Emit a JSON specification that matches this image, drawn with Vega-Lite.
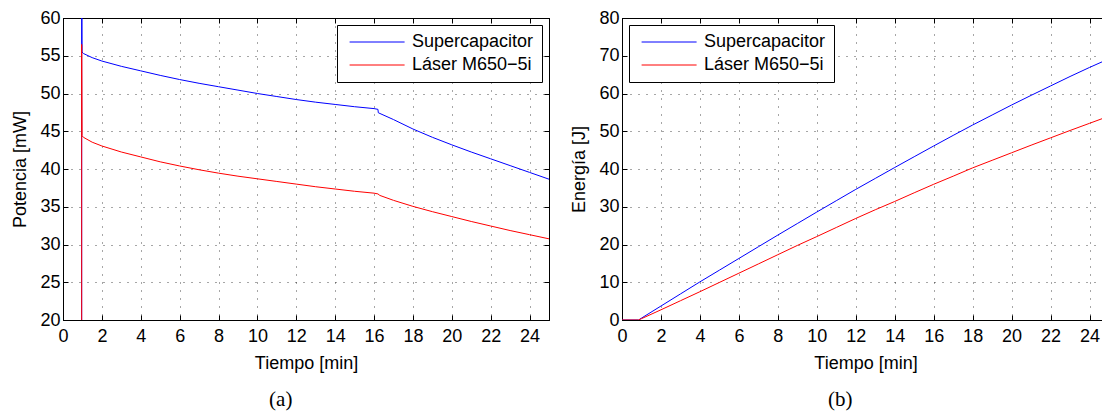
{
  "$schema": "https://vega.github.io/schema/vega-lite/v6.json",
  "padding": {"left": 11, "top": 8, "right": 0, "bottom": 0},
  "datasets": {
    "power": [
      {"t": 0, "v": 0, "s": "Supercapacitor"},
      {"t": 0.96, "v": 0, "s": "Supercapacitor"},
      {"t": 0.96, "v": 75, "s": "Supercapacitor"},
      {"t": 0.98, "v": 55.5, "s": "Supercapacitor"},
      {"t": 1.05, "v": 55.3, "s": "Supercapacitor"},
      {"t": 1.5, "v": 54.75, "s": "Supercapacitor"},
      {"t": 2, "v": 54.3, "s": "Supercapacitor"},
      {"t": 3, "v": 53.6, "s": "Supercapacitor"},
      {"t": 4, "v": 53.0, "s": "Supercapacitor"},
      {"t": 5, "v": 52.4, "s": "Supercapacitor"},
      {"t": 6, "v": 51.85, "s": "Supercapacitor"},
      {"t": 7, "v": 51.35, "s": "Supercapacitor"},
      {"t": 8, "v": 50.9, "s": "Supercapacitor"},
      {"t": 9, "v": 50.45, "s": "Supercapacitor"},
      {"t": 10, "v": 50.0, "s": "Supercapacitor"},
      {"t": 11, "v": 49.6, "s": "Supercapacitor"},
      {"t": 12, "v": 49.2, "s": "Supercapacitor"},
      {"t": 13, "v": 48.85, "s": "Supercapacitor"},
      {"t": 14, "v": 48.55, "s": "Supercapacitor"},
      {"t": 15, "v": 48.25, "s": "Supercapacitor"},
      {"t": 16, "v": 48.0, "s": "Supercapacitor"},
      {"t": 16.2, "v": 47.9, "s": "Supercapacitor"},
      {"t": 16.22, "v": 47.45, "s": "Supercapacitor"},
      {"t": 17, "v": 46.55, "s": "Supercapacitor"},
      {"t": 18, "v": 45.3, "s": "Supercapacitor"},
      {"t": 19, "v": 44.2, "s": "Supercapacitor"},
      {"t": 20, "v": 43.2, "s": "Supercapacitor"},
      {"t": 21, "v": 42.25, "s": "Supercapacitor"},
      {"t": 22, "v": 41.35, "s": "Supercapacitor"},
      {"t": 23, "v": 40.45, "s": "Supercapacitor"},
      {"t": 24, "v": 39.55, "s": "Supercapacitor"},
      {"t": 25, "v": 38.65, "s": "Supercapacitor"},
      {"t": 0, "v": 0, "s": "Láser M650−5i"},
      {"t": 0.96, "v": 0, "s": "Láser M650−5i"},
      {"t": 0.96, "v": 56.5, "s": "Láser M650−5i"},
      {"t": 0.98, "v": 44.4, "s": "Láser M650−5i"},
      {"t": 1.05, "v": 44.2, "s": "Láser M650−5i"},
      {"t": 1.5, "v": 43.55, "s": "Láser M650−5i"},
      {"t": 2, "v": 43.05, "s": "Láser M650−5i"},
      {"t": 3, "v": 42.25, "s": "Láser M650−5i"},
      {"t": 4, "v": 41.6, "s": "Láser M650−5i"},
      {"t": 5, "v": 40.95, "s": "Láser M650−5i"},
      {"t": 6, "v": 40.4, "s": "Láser M650−5i"},
      {"t": 7, "v": 39.9, "s": "Láser M650−5i"},
      {"t": 8, "v": 39.45, "s": "Láser M650−5i"},
      {"t": 9, "v": 39.05, "s": "Láser M650−5i"},
      {"t": 10, "v": 38.7, "s": "Láser M650−5i"},
      {"t": 11, "v": 38.35, "s": "Láser M650−5i"},
      {"t": 12, "v": 38.0, "s": "Láser M650−5i"},
      {"t": 13, "v": 37.65, "s": "Láser M650−5i"},
      {"t": 14, "v": 37.35, "s": "Láser M650−5i"},
      {"t": 15, "v": 37.05, "s": "Láser M650−5i"},
      {"t": 16, "v": 36.8, "s": "Láser M650−5i"},
      {"t": 16.2, "v": 36.7, "s": "Láser M650−5i"},
      {"t": 16.3, "v": 36.5, "s": "Láser M650−5i"},
      {"t": 17, "v": 35.85, "s": "Láser M650−5i"},
      {"t": 18, "v": 35.05, "s": "Láser M650−5i"},
      {"t": 19, "v": 34.35, "s": "Láser M650−5i"},
      {"t": 20, "v": 33.7, "s": "Láser M650−5i"},
      {"t": 21, "v": 33.05, "s": "Láser M650−5i"},
      {"t": 22, "v": 32.45, "s": "Láser M650−5i"},
      {"t": 23, "v": 31.85, "s": "Láser M650−5i"},
      {"t": 24, "v": 31.3, "s": "Láser M650−5i"},
      {"t": 25, "v": 30.75, "s": "Láser M650−5i"}
    ],
    "energy": [
      {"t": 0, "v": 0, "s": "Supercapacitor"},
      {"t": 0.85, "v": 0, "s": "Supercapacitor"},
      {"t": 1, "v": 0.5, "s": "Supercapacitor"},
      {"t": 2, "v": 3.7, "s": "Supercapacitor"},
      {"t": 3, "v": 6.9, "s": "Supercapacitor"},
      {"t": 4, "v": 10.1, "s": "Supercapacitor"},
      {"t": 5, "v": 13.2, "s": "Supercapacitor"},
      {"t": 6, "v": 16.3, "s": "Supercapacitor"},
      {"t": 7, "v": 19.4, "s": "Supercapacitor"},
      {"t": 8, "v": 22.5, "s": "Supercapacitor"},
      {"t": 9, "v": 25.55, "s": "Supercapacitor"},
      {"t": 10, "v": 28.6, "s": "Supercapacitor"},
      {"t": 11, "v": 31.6, "s": "Supercapacitor"},
      {"t": 12, "v": 34.6, "s": "Supercapacitor"},
      {"t": 13, "v": 37.5, "s": "Supercapacitor"},
      {"t": 14, "v": 40.4, "s": "Supercapacitor"},
      {"t": 15, "v": 43.25, "s": "Supercapacitor"},
      {"t": 16, "v": 46.1, "s": "Supercapacitor"},
      {"t": 17, "v": 48.9, "s": "Supercapacitor"},
      {"t": 18, "v": 51.65, "s": "Supercapacitor"},
      {"t": 19, "v": 54.3, "s": "Supercapacitor"},
      {"t": 20, "v": 56.95, "s": "Supercapacitor"},
      {"t": 21, "v": 59.5, "s": "Supercapacitor"},
      {"t": 22, "v": 62.0, "s": "Supercapacitor"},
      {"t": 23, "v": 64.5, "s": "Supercapacitor"},
      {"t": 24, "v": 66.9, "s": "Supercapacitor"},
      {"t": 25, "v": 69.2, "s": "Supercapacitor"},
      {"t": 0, "v": 0, "s": "Láser M650−5i"},
      {"t": 0.85, "v": 0, "s": "Láser M650−5i"},
      {"t": 1, "v": 0.35, "s": "Láser M650−5i"},
      {"t": 2, "v": 2.7, "s": "Láser M650−5i"},
      {"t": 3, "v": 5.1, "s": "Láser M650−5i"},
      {"t": 4, "v": 7.5, "s": "Láser M650−5i"},
      {"t": 5, "v": 9.95, "s": "Láser M650−5i"},
      {"t": 6, "v": 12.4, "s": "Láser M650−5i"},
      {"t": 7, "v": 14.85, "s": "Láser M650−5i"},
      {"t": 8, "v": 17.3, "s": "Láser M650−5i"},
      {"t": 9, "v": 19.75, "s": "Láser M650−5i"},
      {"t": 10, "v": 22.1, "s": "Láser M650−5i"},
      {"t": 11, "v": 24.5, "s": "Láser M650−5i"},
      {"t": 12, "v": 26.9, "s": "Láser M650−5i"},
      {"t": 13, "v": 29.2, "s": "Láser M650−5i"},
      {"t": 14, "v": 31.4, "s": "Láser M650−5i"},
      {"t": 15, "v": 33.7, "s": "Láser M650−5i"},
      {"t": 16, "v": 35.95, "s": "Láser M650−5i"},
      {"t": 17, "v": 38.1, "s": "Láser M650−5i"},
      {"t": 18, "v": 40.3, "s": "Láser M650−5i"},
      {"t": 19, "v": 42.3, "s": "Láser M650−5i"},
      {"t": 20, "v": 44.3, "s": "Láser M650−5i"},
      {"t": 21, "v": 46.3, "s": "Láser M650−5i"},
      {"t": 22, "v": 48.25, "s": "Láser M650−5i"},
      {"t": 23, "v": 50.2, "s": "Láser M650−5i"},
      {"t": 24, "v": 52.1, "s": "Láser M650−5i"},
      {"t": 25, "v": 54.0, "s": "Láser M650−5i"}
    ]
  },
  "spacing": 20,
  "resolve": {"scale": {"color": "independent"}, "legend": {"color": "independent"}},
  "hconcat": [
    {
      "width": 486,
      "height": 302,
      "title": {"text": "(a)", "orient": "bottom"},
      "data": {"name": "power"},
      "resolve": {"axis": {"x": "independent", "y": "independent"}},
      "layer": [
        {
          "mark": {"type": "line", "strokeWidth": 1, "clip": true},
          "encoding": {
            "x": {"field": "t", "type": "quantitative", "scale": {"domain": [0, 25], "nice": false},
                  "axis": {"title": "Tiempo [min]", "values": [0, 2, 4, 6, 8, 10, 12, 14, 16, 18, 20, 22, 24], "grid": true}},
            "y": {"field": "v", "type": "quantitative", "scale": {"domain": [20, 60], "nice": false},
                  "axis": {"title": "Potencia [mW]", "values": [20, 25, 30, 35, 40, 45, 50, 55, 60], "grid": true}},
            "color": {"field": "s", "type": "nominal", "sort": null,
                      "scale": {"domain": ["Supercapacitor", "Láser M650−5i"], "range": ["#0000ff", "#ff0000"]},
                      "legend": {"title": null, "orient": "top-right", "offset": 7}}
          }
        },
        {
          "mark": {"type": "point", "opacity": 0, "clip": true},
          "encoding": {
            "x": {"field": "t", "type": "quantitative",
                  "axis": {"orient": "top", "title": null, "labels": false, "grid": false, "values": [0, 2, 4, 6, 8, 10, 12, 14, 16, 18, 20, 22, 24]}},
            "y": {"field": "v", "type": "quantitative",
                  "axis": {"orient": "right", "title": null, "labels": false, "grid": false, "values": [20, 25, 30, 35, 40, 45, 50, 55, 60]}}
          }
        }
      ]
    },
    {
      "width": 487,
      "height": 302,
      "title": {"text": "(b)", "orient": "bottom"},
      "data": {"name": "energy"},
      "resolve": {"axis": {"x": "independent", "y": "independent"}},
      "layer": [
        {
          "mark": {"type": "line", "strokeWidth": 1, "clip": true},
          "encoding": {
            "x": {"field": "t", "type": "quantitative", "scale": {"domain": [0, 25], "nice": false},
                  "axis": {"title": "Tiempo [min]", "values": [0, 2, 4, 6, 8, 10, 12, 14, 16, 18, 20, 22, 24], "grid": true}},
            "y": {"field": "v", "type": "quantitative", "scale": {"domain": [0, 80], "nice": false},
                  "axis": {"title": "Energía [J]", "values": [0, 10, 20, 30, 40, 50, 60, 70, 80], "grid": true}},
            "color": {"field": "s", "type": "nominal", "sort": null,
                      "scale": {"domain": ["Supercapacitor", "Láser M650−5i"], "range": ["#0000ff", "#ff0000"]},
                      "legend": {"title": null, "orient": "top-left", "offset": 7}}
          }
        },
        {
          "mark": {"type": "point", "opacity": 0, "clip": true},
          "encoding": {
            "x": {"field": "t", "type": "quantitative",
                  "axis": {"orient": "top", "title": null, "labels": false, "grid": false, "values": [0, 2, 4, 6, 8, 10, 12, 14, 16, 18, 20, 22, 24]}},
            "y": {"field": "v", "type": "quantitative",
                  "axis": {"orient": "right", "title": null, "labels": false, "grid": false, "values": [0, 10, 20, 30, 40, 50, 60, 70, 80]}}
          }
        }
      ]
    }
  ],
  "config": {
    "font": "Liberation Sans",
    "background": "white",
    "view": {"stroke": "black", "strokeWidth": 1},
    "axis": {
      "labelFont": "Liberation Sans", "labelFontSize": 18, "labelColor": "black",
      "titleFont": "Liberation Sans", "titleFontSize": 18, "titleFontWeight": "normal", "titleColor": "black",
      "domainColor": "black", "domainWidth": 1,
      "tickColor": "black", "tickSize": -5, "tickWidth": 1,
      "gridColor": "black", "gridOpacity": 0.7, "gridDash": [1, 7], "gridWidth": 1,
      "labelPadding": 12, "labelFlush": false, "labelOverlap": false
    },
    "axisX": {"titlePadding": 9},
    "axisY": {"titlePadding": 10, "labelPadding": 8},
    "legend": {
      "labelFont": "Liberation Sans", "labelFontSize": 18, "labelColor": "black",
      "symbolType": "M-0.8,0H9.2", "symbolSize": 121, "symbolStrokeWidth": 1,
      "strokeColor": "black", "fillColor": "white", "padding": 8, "rowPadding": 5, "labelOffset": 49
    },
    "title": {"font": "Liberation Serif", "fontSize": 21, "fontWeight": "normal", "color": "black", "anchor": "middle", "frame": "bounds", "offset": 17}
  }
}
